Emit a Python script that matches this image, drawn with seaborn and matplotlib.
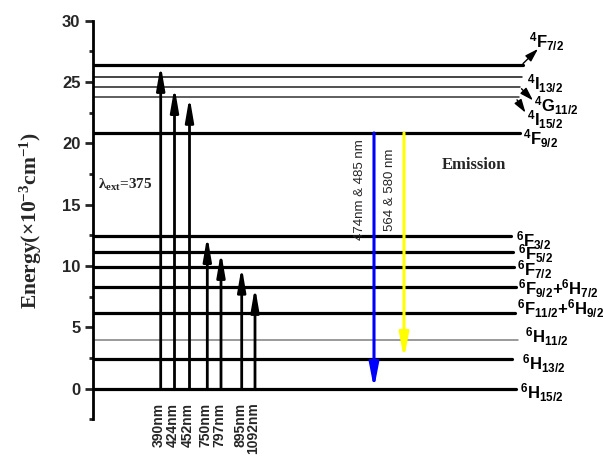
import numpy as np
import pandas as pd
import matplotlib
matplotlib.use("Agg")
import matplotlib.pyplot as plt
from matplotlib.ticker import MultipleLocator
import seaborn as sns

# ---- Dy3+ energy levels (x10^3 cm^-1) ----
level_terms = [r"{}^{6}H_{15/2}", r"{}^{6}H_{13/2}", r"{}^{6}H_{11/2}",
               r"{}^{6}F_{11/2}{+}{}^{6}H_{9/2}", r"{}^{6}F_{9/2}{+}{}^{6}H_{7/2}",
               r"{}^{6}F_{7/2}", r"{}^{6}F_{5/2}", r"{}^{6}F_{3/2}",
               r"{}^{4}F_{9/2}", r"{}^{4}I_{15/2}", r"{}^{4}G_{11/2}",
               r"{}^{4}I_{13/2}", r"{}^{4}F_{7/2}"]
level_energy = [0.0, 2.45, 3.95, 6.15, 8.3, 9.95, 11.15, 12.45,
                20.85, 23.8, 24.6, 25.4, 26.4]

# ---- excitation transitions (from ground state) ----
excitation_labels = ["390nm", "424nm", "452nm", "750nm", "797nm", "895nm", "1092nm"]
excitation_target = [r"{}^{4}F_{7/2}", r"{}^{4}G_{11/2}", r"{}^{4}I_{15/2}",
                     r"{}^{6}F_{3/2}", r"{}^{6}F_{5/2}", r"{}^{6}F_{7/2}",
                     r"{}^{6}F_{9/2}{+}{}^{6}H_{7/2}"]

# ---- emission transitions (from 4F9/2) ----
emission_labels = ["474nm & 485 nm", "564 & 580 nm"]
emission_upper = [r"{}^{4}F_{9/2}", r"{}^{4}F_{9/2}"]
emission_lower = [r"{}^{6}H_{15/2}", r"{}^{6}H_{13/2}"]

yticks = [0, 5, 10, 15, 20, 25, 30]

# ---- layout (horizontal positions in figure pixels) ----
axis_x = 93
level_end = [516, 512, 518, 515, 516, 514, 513, 511, 520, 519, 520, 522, 523]
thin_levels = {r"{}^{4}I_{15/2}": "#333333", r"{}^{4}G_{11/2}": "#222222",
               r"{}^{4}I_{13/2}": "#111111", r"{}^{6}H_{11/2}": "#7f7f7f"}
# label anchor (x, y) for each level, y in energy units
label_pos = [(520, -0.37), (522, 2.06), (525, 4.2), (517, 6.54), (518, 8.16),
             (517, 9.7), (518, 11.0), (516, 12.1), (523, 20.35),
             (527, 21.9), (534, 23.05), (527, 24.85), (529, 28.3)]
# levels whose label is linked with a small pointer: (start, end)
pointer = {r"{}^{4}F_{7/2}": ((523, 26.5), (538, 27.7)),
           r"{}^{4}G_{11/2}": ((521.5, 24.45), (533, 23.5)),
           r"{}^{4}I_{15/2}": ((517, 23.55), (525.5, 22.5))}
excitation_x = [160.7, 174.5, 189.5, 207.3, 221.0, 241.7, 255.0]
emission_x = [374, 404]
emission_colors = ["#0000ff", "#ffff00"]

E = dict(zip(level_terms, level_energy))

sns.set_theme(style="ticks")
plt.rcParams.update({
    "font.family": ["Liberation Sans", "DejaVu Sans"],
    "mathtext.fontset": "custom",
    "mathtext.rm": "Liberation Serif:bold",
    "mathtext.bf": "Liberation Sans:bold",
    "mathtext.it": "Liberation Serif:italic",
})

fig = plt.figure(figsize=(6.03, 4.57), dpi=100)
ax = fig.add_axes([axis_x / 603, 1 - 419.3 / 457, 1 - axis_x / 603, (419.3 - 20.7) / 457])
ax.set_facecolor("white")

# energy levels
rows = []
for term, en, x1 in zip(level_terms, level_energy, level_end):
    rows.append({"term": term, "x": axis_x, "E": en})
    rows.append({"term": term, "x": x1, "E": en})
levels = pd.DataFrame(rows)
thick = levels[~levels["term"].isin(thin_levels)]
sns.lineplot(data=thick, x="x", y="E", units="term", estimator=None,
             color="black", lw=2.3, sort=False, ax=ax, legend=False)
for term, col in thin_levels.items():
    sns.lineplot(data=levels[levels["term"] == term], x="x", y="E",
                 estimator=None, color=col, lw=1.1, sort=False, ax=ax, legend=False)

# level labels
for term, (lx, ly) in zip(level_terms, label_pos):
    ax.text(lx, ly, rf"$\mathbf{{{term}}}$", fontsize=12, ha="left",
            va="center", color="black", clip_on=False)
for term, (p0, p1) in pointer.items():
    ax.annotate("", xy=p1, xytext=p0,
                arrowprops=dict(arrowstyle="-|>,head_length=0.8,head_width=0.25",
                                lw=1.0, color="black", shrinkA=0, shrinkB=0,
                                mutation_scale=10))

# excitation arrows
for lab, tgt, x in zip(excitation_labels, excitation_target, excitation_x):
    ax.annotate("", xy=(x, E[tgt]), xytext=(x, 0),
                arrowprops=dict(arrowstyle="-|>,head_length=1.4,head_width=0.24",
                                lw=2.0, color="black", shrinkA=0, shrinkB=0,
                                mutation_scale=10))
    ax.text(x - 1.5, -1.15, lab, rotation=90, ha="center", va="top",
            fontsize=10, fontweight="bold", clip_on=False)

# emission arrows
for lab, up, lo, x, c in zip(emission_labels, emission_upper, emission_lower,
                             emission_x, emission_colors):
    ax.annotate("", xy=(x, E[lo]), xytext=(x, E[up]),
                arrowprops=dict(arrowstyle="-|>,head_length=1.45,head_width=0.28",
                                lw=2.2, color=c, shrinkA=0, shrinkB=0,
                                mutation_scale=10))
    ax.text(x - 14, 16.2, lab, rotation=90, ha="center", va="center", fontsize=9.5)

ax.text(474, 18.2, "Emission", fontsize=12, ha="center", va="center",
        fontfamily="Liberation Serif", fontweight="bold")
ax.text(98, 16.6, r"$\mathrm{\lambda_{ext}}$=375", fontsize=11, ha="left",
        va="center", fontfamily="Liberation Serif", fontweight="bold")

# axes
ax.set_xlim(axis_x, 603)
ax.set_ylim(-2.5, 30)
ax.set_yticks(yticks)
ax.yaxis.set_minor_locator(MultipleLocator(2.5))
ax.set_yticklabels([str(t) for t in yticks], fontsize=12, fontweight="bold")
ax.tick_params(axis="y", which="major", length=6, width=2, direction="out", pad=3)
ax.tick_params(axis="y", which="minor", length=3, width=2, direction="out")
ax.set_xticks([])
ax.set_xlabel("")
ax.set_ylabel(r"$\mathrm{Energy(\times10^{-3}cm^{-1})}$", fontsize=15.5)
ax.yaxis.set_label_coords(-0.097, 0.5)
for side in ["top", "right", "bottom"]:
    ax.spines[side].set_visible(False)
ax.spines["left"].set_linewidth(2)
ax.spines["left"].set_color("black")

fig.savefig("out.png", dpi=100)
